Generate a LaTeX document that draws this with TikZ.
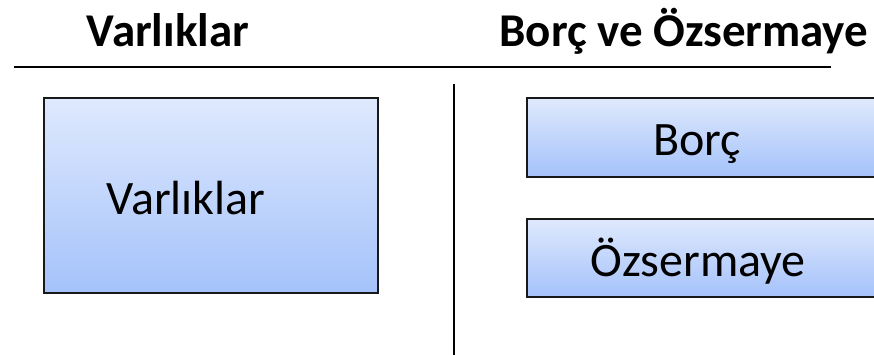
\documentclass[tikz,border=0pt]{standalone}
\usepackage{fontspec}
\setmainfont{Carlito}
\definecolor{boxtop}{RGB}{223,233,253}
\definecolor{boxbottom}{RGB}{164,194,250}
\tikzset{
  panel/.style={draw=black!90, line width=1.6pt, top color=boxtop, bottom color=boxbottom,
    inner sep=0pt, outer sep=0pt},
  heading/.style={font=\fontsize{47}{50}\selectfont\bfseries, anchor=base, inner sep=0pt},
  label/.style={font=\fontsize{48}{52}\selectfont, anchor=base, inner sep=0pt},
  rule/.style={line width=2.2pt, black}
}
\begin{document}
\begin{tikzpicture}[x=1pt,y=1pt]
  \useasboundingbox (0,0) rectangle (874,354);
  \clip (0,0) rectangle (874,354);

  % column headings
  \node[heading] (hleft) at (168,307) {Varlıklar};
  \node[heading] (hright) at (684,307) {Borç ve Özsermaye};

  % T-account rules
  \coordinate (ruleL) at (14,287);
  \coordinate (ruleR) at (831,287);
  \coordinate (splitT) at (454,270);
  \coordinate (splitB) at (454,-2);
  \draw[rule] (ruleL) -- (ruleR);
  \draw[rule] (splitT) -- (splitB);

  % assets side
  \node[panel, minimum width=334pt, minimum height=195pt] (assets) at (211,158.5) {};
  \node[label] (assetsText) at (186,140) {Varlıklar};

  % liabilities and equity side
  \node[panel, minimum width=373pt, minimum height=79pt] (debt) at (713.5,216.5) {};
  \node[label] (debtText) at (697,199) {Borç};
  \node[panel, minimum width=373pt, minimum height=78pt] (equity) at (713.5,96) {};
  \node[label] (equityText) at (698,78) {Özsermaye};
\end{tikzpicture}
\end{document}
